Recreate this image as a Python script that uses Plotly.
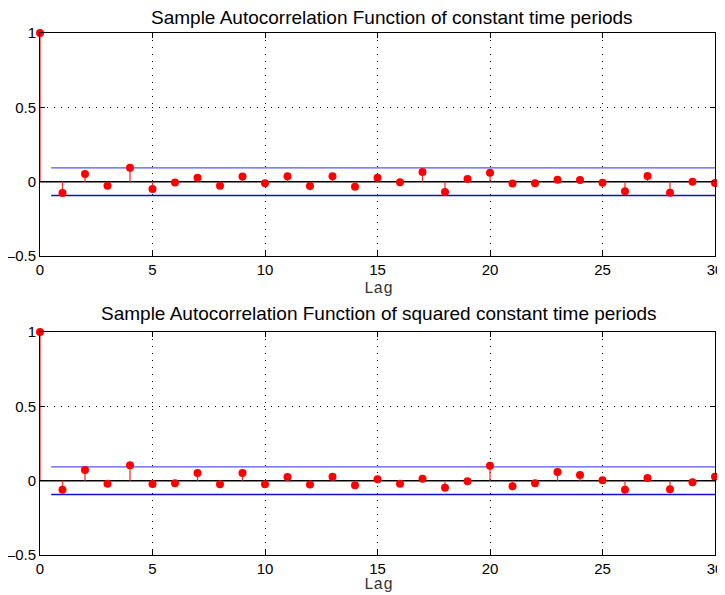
import plotly.graph_objects as go

lags = list(range(0, 31))
acf_const = [1.0, -0.076, 0.052, -0.027, 0.094, -0.049, -0.005, 0.027, -0.027, 0.034,
             -0.011, 0.036, -0.029, 0.036, -0.034, 0.027, -0.004, 0.065, -0.069, 0.018,
             0.060, -0.013, -0.011, 0.013, 0.011, -0.007, -0.065, 0.038, -0.074, 0.0, -0.009]
acf_sq = [1.0, -0.061, 0.072, -0.020, 0.103, -0.022, -0.018, 0.052, -0.024, 0.052,
          -0.024, 0.025, -0.025, 0.027, -0.031, 0.009, -0.020, 0.013, -0.047, -0.004,
          0.101, -0.038, -0.018, 0.058, 0.038, 0.002, -0.061, 0.018, -0.058, -0.011, 0.027]
bound = 0.093
bound_x = [0.5, 30]
titles = ["Sample Autocorrelation Function of constant time periods",
          "Sample Autocorrelation Function of squared constant time periods"]
xlabel = "Lag"
xticks = [0, 5, 10, 15, 20, 25, 30]
yticks = [-0.5, 0, 0.5, 1]
yticktext = ["\u20130.5", "0", "0.5", "1"]

# page body adds an ~8px offset; work in target-pixel coords and subtract it
OFF = 8
W, H = 725 - OFF, 595 - OFF
AX_L, AX_R = 40 - OFF, 715 - OFF
ML, MR = AX_L, W - AX_R
MT = 33 - OFF
MB = H - (555 - OFF)
PW, PH = W - ML - MR, H - MT - MB

def px(x):
    return (x - OFF - ML) / PW

def py(y):
    return (H - MB - (y - OFF)) / PH

fig = go.Figure()
series = [acf_const, acf_sq]
for i, vals in enumerate(series):
    xa = "x" if i == 0 else "x2"
    ya = "y" if i == 0 else "y2"
    sx, sy = [], []
    for l, v in zip(lags, vals):
        sx += [l, l, None]
        sy += [0, v, None]
    fig.add_trace(go.Scatter(x=[lags[0], lags[-1]], y=[0, 0], mode="lines",
                             line=dict(color="black", width=1.5), xaxis=xa, yaxis=ya,
                             hoverinfo="skip", showlegend=False))
    fig.add_trace(go.Scatter(x=bound_x, y=[bound, bound], mode="lines",
                             line=dict(color="#5555ff", width=1.3), xaxis=xa, yaxis=ya,
                             showlegend=False))
    fig.add_trace(go.Scatter(x=bound_x, y=[-bound, -bound], mode="lines",
                             line=dict(color="#1010d0", width=1.3), xaxis=xa, yaxis=ya,
                             showlegend=False))
    fig.add_trace(go.Scatter(x=sx, y=sy, mode="lines",
                             line=dict(color="#ff3030", width=1.3), xaxis=xa, yaxis=ya,
                             showlegend=False, cliponaxis=False))
    fig.add_trace(go.Scatter(x=lags, y=vals, mode="markers",
                             marker=dict(color="#ff0000", size=8), xaxis=xa, yaxis=ya,
                             showlegend=False, cliponaxis=False))

axis_common = dict(showline=True, linecolor="black", linewidth=1, mirror="ticks",
                   ticks="inside", ticklen=5, tickcolor="black", showgrid=True,
                   gridcolor="black", griddash="1px,6px", gridwidth=1, zeroline=False,
                   automargin=False,
                   tickfont=dict(family="Liberation Sans", size=15, color="black"))

fig.update_layout(
    width=W, height=H,
    margin=dict(l=ML, r=MR, t=MT, b=MB, pad=0),
    paper_bgcolor="white", plot_bgcolor="white",
    xaxis=dict(domain=[0, 1], range=[0, 30], tickvals=xticks, anchor="y", **axis_common),
    yaxis=dict(domain=[py(256), py(33)], range=[-0.5, 1], tickvals=yticks, ticktext=yticktext,
               anchor="x", **axis_common),
    xaxis2=dict(domain=[0, 1], range=[0, 30], tickvals=xticks, anchor="y2", **axis_common),
    yaxis2=dict(domain=[py(555), py(332)], range=[-0.5, 1], tickvals=yticks, ticktext=yticktext,
                anchor="x2", **axis_common),
)

for t, (xc, yc) in zip(titles, [(392, 18), (379, 313)]):
    fig.add_annotation(text=t, x=px(xc), y=py(yc), xref="paper", yref="paper",
                       xanchor="center", yanchor="middle", showarrow=False, borderpad=0,
                       font=dict(family="Liberation Sans", size=19, color="black"))

for yl in [289, 585]:
    fig.add_annotation(text=xlabel, x=px(378), y=py(yl), xref="paper", yref="paper",
                       xanchor="center", yanchor="middle", showarrow=False, borderpad=0,
                       font=dict(family="Liberation Mono", size=16, color="#333333"))

fig.write_html("out.html")
